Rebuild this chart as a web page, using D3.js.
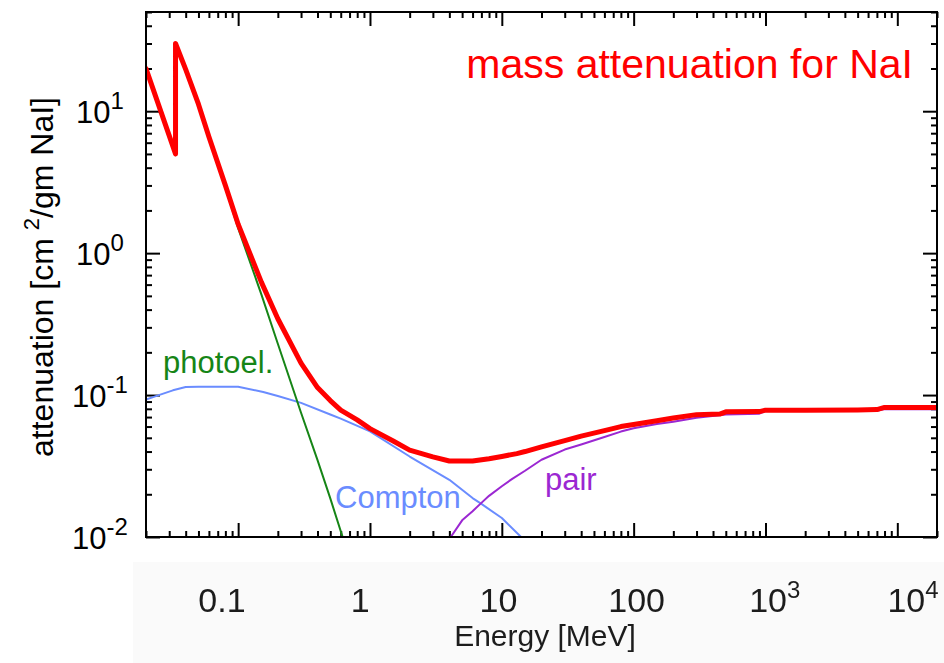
<!DOCTYPE html>
<html>
<head>
<meta charset="utf-8">
<script src="https://cdn.jsdelivr.net/npm/d3@7"></script>
<style>
  html, body { margin: 0; padding: 0; background: #fff; }
  svg { display: block; font-family: "Liberation Sans", Arial, Helvetica, sans-serif; }
</style>
</head>
<body>
<svg id="chart" width="944" height="663"></svg>
<script>
// Mass attenuation coefficients for NaI [cm^2/g] vs photon energy [MeV]

// total attenuation (with the iodine K-edge near 33 keV)
const totalEnergy = [0.02, 0.0335, 0.0335, 0.04, 0.05, 0.06, 0.08, 0.1, 0.15, 0.2, 0.3, 0.4, 0.5, 0.6, 0.8,
  1, 1.5, 2, 3, 4, 5, 6, 8, 10, 13, 15, 20, 30, 40, 60, 80, 100, 150, 200, 300, 450, 500, 900, 1000,
  2000, 5000, 7000, 8000, 20000];
const totalValue = [20, 5.0, 30, 19.7, 11.2, 6.6, 3.0, 1.6, 0.625, 0.345, 0.168, 0.113, 0.0914, 0.0783, 0.0668,
  0.058, 0.0475, 0.0409, 0.0367, 0.0343, 0.0343, 0.0343, 0.0356, 0.0369, 0.0387, 0.0400, 0.0432, 0.0478, 0.0514, 0.0562, 0.060, 0.0621, 0.066, 0.0689, 0.0728, 0.0735, 0.0762, 0.0765, 0.0783,
  0.0783, 0.0785, 0.0790, 0.0818, 0.0818];

// photoelectric absorption
const photoEnergy = [0.02, 0.0335, 0.0335, 0.04, 0.05, 0.06, 0.08, 0.1, 0.15, 0.2, 0.3, 0.4, 0.5, 0.62];
const photoValue  = [19.9, 4.9, 29.9, 19.6, 11.1, 6.5, 2.9, 1.5, 0.512, 0.23, 0.075, 0.0348, 0.0187, 0.0100];

// Compton scattering
const comptonEnergy = [0.02, 0.025, 0.032, 0.04, 0.05, 0.1, 0.155, 0.2, 0.3, 0.5, 0.6, 1, 2, 4, 6, 7, 10, 14];
const comptonValue  = [0.093, 0.100, 0.108, 0.114, 0.1145, 0.1145, 0.105, 0.0984, 0.0881, 0.0730, 0.0683, 0.0555, 0.0369, 0.0253, 0.0188, 0.0171, 0.0136, 0.0100];

// pair production
const pairEnergy = [4.1, 5, 6, 7, 8, 10, 12, 15, 20, 30, 40, 60, 80, 100, 150, 200, 300, 500, 900, 1000, 2000, 5000, 7000, 8000, 20000];
const pairValue  = [0.0100, 0.0131, 0.0152, 0.0174, 0.0195, 0.0228, 0.0257, 0.0293, 0.0350, 0.0413, 0.0448, 0.0506, 0.0553, 0.0583, 0.0625, 0.0649, 0.0692, 0.0731, 0.0740, 0.0771, 0.0771, 0.0771, 0.0776, 0.0796, 0.0796];

// axis tick labels
const yTickValues = [10, 1, 0.1, 0.01];
const yTickExponents = ["1", "0", "-1", "-2"];
const xTickValues = [0.1, 1, 10, 100, 1000, 10000];
const xTickLabels = [["0.1", ""], ["1", ""], ["10", ""], ["100", ""], ["10", "3"], ["10", "4"]];

const W = 944, H = 663;
const margin = { left: 146, right: 937, top: 12, bottom: 537 };

const svg = d3.select("#chart");

const x = d3.scaleLog().domain([0.02, 20000]).range([margin.left, margin.right]);
const y = d3.scaleLog().domain([0.01, 50]).range([margin.bottom, margin.top]);

// minor/major tick values on a log axis
function logTicks(scale) {
  const [a, b] = scale.domain();
  const out = [];
  for (let e = Math.floor(Math.log10(a)); e <= Math.ceil(Math.log10(b)); e++) {
    for (let m = 1; m <= 9; m++) {
      const v = m * Math.pow(10, e);
      if (v >= a * 0.9999 && v <= b * 1.0001) out.push(v);
    }
  }
  return out;
}
const xAll = logTicks(x), yAll = logTicks(y);
const isMajor = v => Math.abs(Math.log10(v) - Math.round(Math.log10(v))) < 1e-9;
const xMinor = xAll.filter(v => !isMajor(v)), xMajor = xAll.filter(isMajor);
const yMinor = yAll.filter(v => !isMajor(v)), yMajor = yAll.filter(isMajor);

const MAJ = 14, MIN = 6;
function drawAxis(gen, transform, vals, size) {
  const g = svg.append("g").attr("transform", transform)
    .call(gen.tickValues(vals).tickSizeInner(-size).tickSizeOuter(0).tickFormat(""));
  g.select(".domain").remove();
  g.selectAll(".tick line").attr("stroke", "#000").attr("stroke-width", 2);
}
drawAxis(d3.axisBottom(x), `translate(0,${margin.bottom})`, xMinor, MIN);
drawAxis(d3.axisBottom(x), `translate(0,${margin.bottom})`, xMajor, MAJ);
drawAxis(d3.axisTop(x), `translate(0,${margin.top})`, xMinor, MIN);
drawAxis(d3.axisTop(x), `translate(0,${margin.top})`, xMajor, MAJ);
drawAxis(d3.axisLeft(y), `translate(${margin.left},0)`, yMinor, MIN);
drawAxis(d3.axisLeft(y), `translate(${margin.left},0)`, yMajor, MAJ);
drawAxis(d3.axisRight(y), `translate(${margin.right},0)`, yMinor, MIN);
drawAxis(d3.axisRight(y), `translate(${margin.right},0)`, yMajor, MAJ);

// clip curves to the plot box
svg.append("clipPath").attr("id", "plotClip").append("rect")
  .attr("x", margin.left).attr("y", margin.top)
  .attr("width", margin.right - margin.left).attr("height", margin.bottom - margin.top);

const line = d3.line().x(d => x(d[0])).y(d => y(d[1]));
const zip = (a, b) => a.map((v, i) => [v, b[i]]);

const curves = svg.append("g").attr("clip-path", "url(#plotClip)").attr("fill", "none")
  .attr("stroke-linejoin", "round").attr("stroke-linecap", "round");
curves.append("path").attr("d", line(zip(comptonEnergy, comptonValue))).attr("stroke", "#6a8cff").attr("stroke-width", 2);
curves.append("path").attr("d", line(zip(pairEnergy, pairValue))).attr("stroke", "#9b27d2").attr("stroke-width", 2);
curves.append("path").attr("d", line(zip(photoEnergy, photoValue))).attr("stroke", "#168516").attr("stroke-width", 2);
curves.append("path").attr("d", line(zip(totalEnergy, totalValue))).attr("stroke", "#ff0000").attr("stroke-width", 5);

// frame
svg.append("rect").attr("x", margin.left).attr("y", margin.top)
  .attr("width", margin.right - margin.left).attr("height", margin.bottom - margin.top)
  .attr("fill", "none").attr("stroke", "#000").attr("stroke-width", 2);

// y tick labels: 10^n
yTickValues.forEach((v, i) => {
  const t = svg.append("text").attr("x", 100).attr("y", y(v) + 12)
    .attr("text-anchor", "middle").attr("font-size", 31).attr("fill", "#000");
  t.append("tspan").text("10");
  t.append("tspan").attr("dy", -14).attr("font-size", 24).text(yTickExponents[i]);
});

// y axis title
const yt = svg.append("text").attr("transform", "translate(53,277) rotate(-90)")
  .attr("text-anchor", "middle").attr("font-size", 32).attr("fill", "#000");
yt.append("tspan").text("attenuation [cm");
yt.append("tspan").attr("dx", 8).attr("dy", -14).attr("font-size", 22).text("2");
yt.append("tspan").attr("dy", 14).text("/gm NaI]");

// curve labels
svg.append("text").attr("x", 163).attr("y", 373).attr("font-size", 31).attr("fill", "#168516").text("photoel.");
svg.append("text").attr("x", 335).attr("y", 508).attr("font-size", 31).attr("fill", "#6a8cff").text("Compton");
svg.append("text").attr("x", 545).attr("y", 490).attr("font-size", 31).attr("fill", "#9b27d2").text("pair");
svg.append("text").attr("x", 913).attr("y", 78).attr("text-anchor", "end").attr("font-size", 41)
  .attr("fill", "#ff0000").text("mass attenuation for NaI");

// energy axis labels on a lighter strip below the plot
const strip = svg.append("g");
svg.append("defs").append("filter").attr("id", "soft")
  .append("feGaussianBlur").attr("stdDeviation", 0.7);
strip.append("rect").attr("x", 133).attr("y", 562).attr("width", W - 133).attr("height", H - 562).attr("fill", "#fafafa");
const xl = d3.scaleLog().domain([0.1, 10000]).range([222, 913]);
const labels = strip.append("g").attr("filter", "url(#soft)").attr("fill", "#1e1e1e");
xTickValues.forEach((v, i) => {
  const t = labels.append("text").attr("x", xl(v)).attr("y", 612)
    .attr("text-anchor", "middle").attr("font-size", 34);
  t.append("tspan").text(xTickLabels[i][0]);
  if (xTickLabels[i][1]) t.append("tspan").attr("dy", -14).attr("font-size", 24).text(xTickLabels[i][1]);
});
labels.append("text").attr("x", 545).attr("y", 646).attr("text-anchor", "middle")
  .attr("font-size", 30).text("Energy [MeV]");
</script>
</body>
</html>
